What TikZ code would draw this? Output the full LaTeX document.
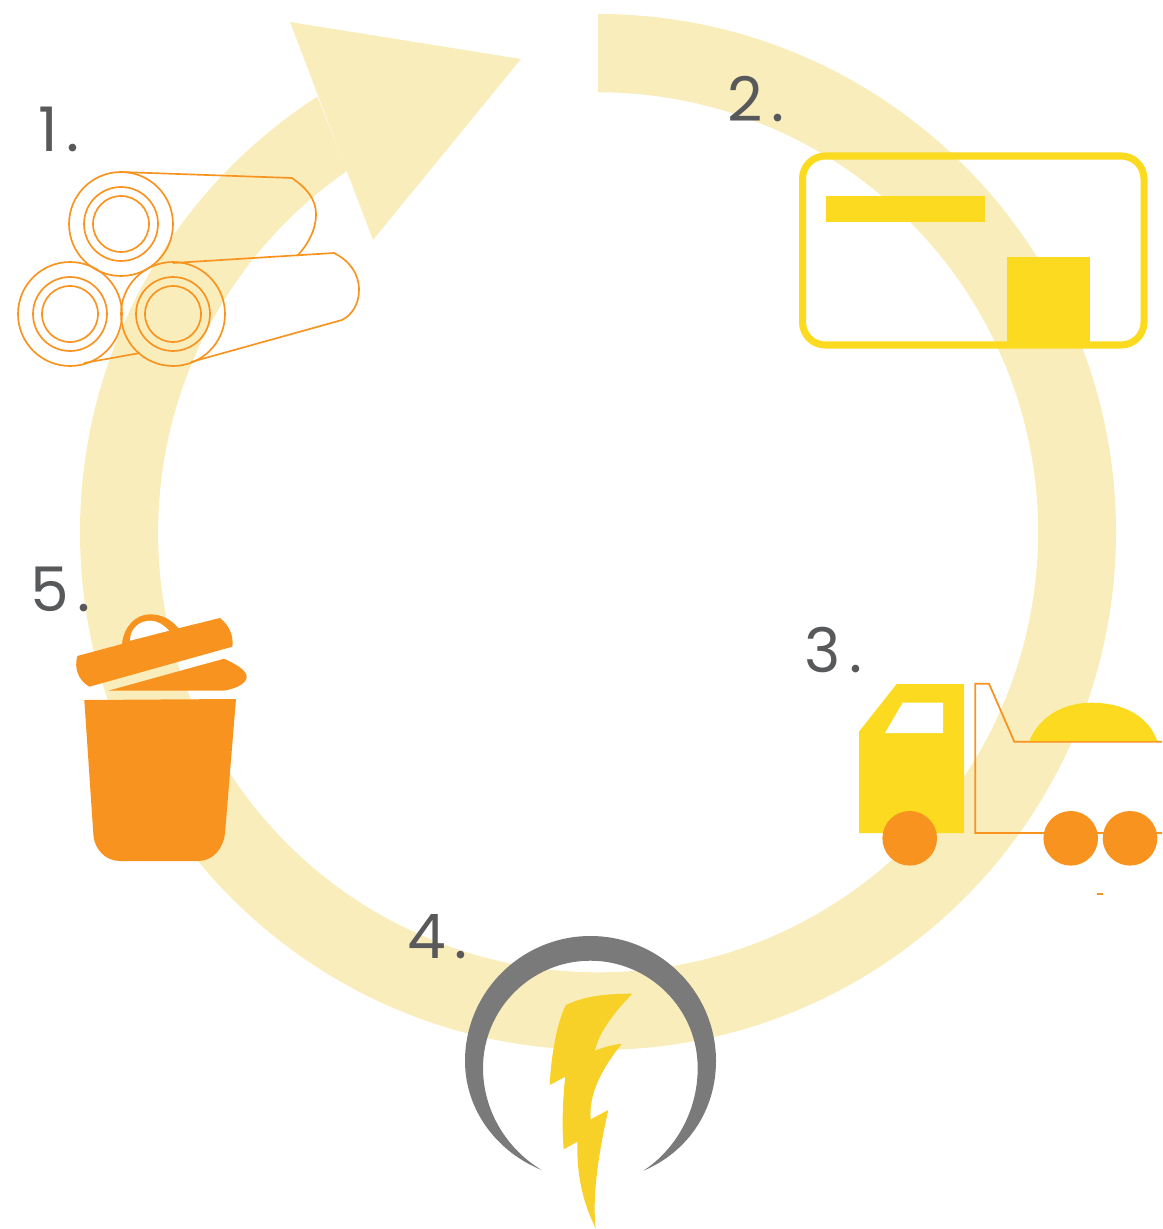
\documentclass[tikz,border=0pt]{standalone}
\usepackage{fontspec}
\setmainfont{Poppins}
\usetikzlibrary{arrows.meta,positioning,calc}
\definecolor{ringc}{HTML}{FAEDBC}
\definecolor{yelc}{HTML}{FBDA1F}
\definecolor{orac}{HTML}{F8931F}
\definecolor{grayc}{HTML}{7A7A7A}
\definecolor{boltc}{HTML}{F7D128}
\definecolor{numc}{HTML}{58595B}
\tikzset{
  num/.style={anchor=base west, inner sep=0pt, text=numc, font=\fontsize{35}{35}\selectfont},
  ringf/.style={fill=ringc, draw=none},
  rollln/.style={draw=orac, line width=0.95pt},
  yelf/.style={fill=yelc, draw=none},
  oraf/.style={fill=orac, draw=none},
  wheel/.style={fill=orac, draw=none}
}
\begin{document}
\begin{tikzpicture}[x=0.02cm, y=-0.02cm]
  \useasboundingbox (0,0) rectangle (1162,1229);
  % cycle arrow
  \fill[ringf] (598,14) arc[start angle=-90, end angle=237.2, radius=518]
    -- (347,171) arc[start angle=235.2, end angle=-90, radius=440] -- cycle;
  \fill[ringf] (290,22) -- (521,59) -- (373,240) -- cycle;
  % 1. rolls
  \foreach \cx/\cy in {121/224, 70/314, 173/314}
    \foreach \r in {52,37,28}
      \draw[rollln] (\cx,\cy) circle[radius=\r];
  \draw[rollln] (121,172) -- (292,178) .. controls (306,188) and (316,198) .. (316,215)
    .. controls (316,230) and (307,246) .. (297,256);
  \draw[rollln] (173,263) -- (334,253) .. controls (350,261) and (359,274) .. (359,290)
    .. controls (359,304) and (352,315) .. (342,320) -- (191,362);
  \draw[rollln] (84,363) -- (140,353);
  % 2. box
  \draw[draw=yelc, line width=4pt, rounded corners=13pt] (802.5,156) rectangle (1144,345);
  \fill[yelf] (826,196) rectangle (985,222);
  \fill[yelf] (1007,257) rectangle (1090,345);
  % 3. truck
  \draw[rollln, line width=1pt] (1162,833) -- (975.3,833) -- (975.3,683.7) -- (989,683.7)
    -- (1014.3,741.7) -- (1162,741.7);
  \fill[yelf] (1029.3,741) .. controls (1040,715) and (1065,702.7) .. (1091.7,702.7)
    .. controls (1122,702.7) and (1148,715) .. (1157.3,741) -- cycle;
  \fill[yelf] (859,731.7) -- (896.7,684) -- (964,684) -- (964,833) -- (859,833) -- cycle;
  \fill[white] (902.7,702.7) -- (943,702.7) -- (943,733) -- (885,733) -- cycle;
  \foreach \cx in {909.7,1070.7,1130}
    \fill[wheel] (\cx,838.3) circle[radius=27.3];
  \fill[oraf] (1097,893) rectangle (1103,894.5);
  % 4. power
  \fill[grayc] (541.7,1170) .. controls (497,1152) and (465,1110) .. (465,1061)
    .. controls (465,992) and (521.5,936) .. (590.5,936)
    .. controls (659.5,936) and (716,992) .. (716,1061)
    .. controls (716,1110) and (688,1152) .. (643.3,1170.7)
    .. controls (675,1150) and (697.7,1112) .. (697.7,1068)
    .. controls (697.7,1009) and (649.5,960.7) .. (590.3,960.7)
    .. controls (531,960.7) and (483,1009) .. (483,1068)
    .. controls (483,1112) and (508,1150) .. (541.7,1170) -- cycle;
  \fill[boltc] (566,1005) .. controls (586.7,995) and (610,993.7) .. (632.3,993.7)
    .. controls (610,1016.7) and (598.3,1035) .. (595,1050.7)
    .. controls (603.3,1047.3) and (613.3,1044.3) .. (621.7,1044)
    .. controls (603.3,1066.7) and (588.3,1093.3) .. (590.7,1119.3)
    -- (608.3,1110)
    .. controls (600,1146.7) and (591.7,1193.3) .. (595.7,1228.3)
    .. controls (581.7,1200) and (576.7,1173.3) .. (577.3,1141.7)
    -- (563.7,1149.3)
    .. controls (561.7,1126.7) and (562.7,1096.7) .. (565.3,1076.7)
    -- (549.7,1085)
    .. controls (551,1053.3) and (558.3,1018.3) .. (566,1005) -- cycle;
  % 5. bin
  \fill[oraf] (84.3,700) -- (236,699) -- (225,833.3) .. controls (223,850) and (212,861) .. (198.3,861)
    -- (120,861) .. controls (106,861) and (94,850) .. (93.3,833.3) -- cycle;
  \fill[oraf] (77.3,656) -- (122,644) .. controls (124,626) and (136,614.3) .. (150,614.3)
    .. controls (162,614.3) and (172,620) .. (178.3,628.3) -- (220,618)
    .. controls (229,625) and (234,636) .. (232.3,646.7) -- (89.3,686.7)
    .. controls (78,680) and (74,668) .. (77.3,656) -- cycle;
  \fill[white] (130,640.7) -- (169,630.7) .. controls (163,624) and (157,620.7) .. (150,620.7)
    .. controls (140,620.7) and (130,628) .. (130,640.7) -- cycle;
  \fill[oraf] (224,658.7) .. controls (238,665) and (247,671) .. (246.7,677.3)
    .. controls (246,684) and (235,689) .. (223.3,690.7) -- (108.3,690.7) -- cycle;
  % numbers
  \node[num] (n1) at (38,152) {1\kern5pt.};
  \node[num] (n2) at (727,122) {2\kern5pt.};
  \node[num] (n3) at (804,672) {3\kern5pt.};
  \node[num] (n4) at (407,958) {4\kern5pt.};
  \node[num] (n5) at (30,611) {5\kern5pt.};
\end{tikzpicture}
\end{document}
